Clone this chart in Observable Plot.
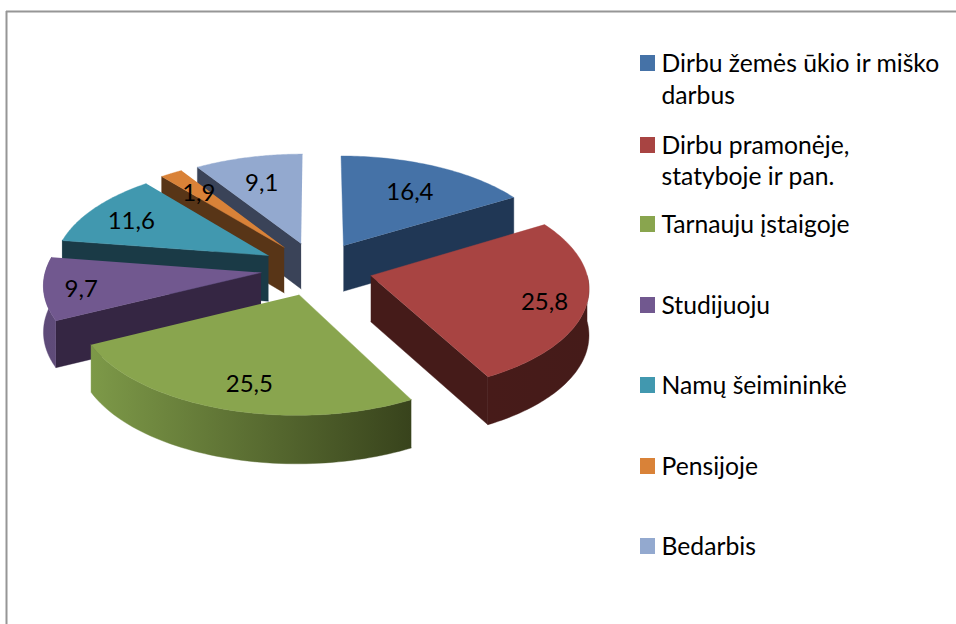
<!DOCTYPE html>
<html lang="lt">
<head>
<meta charset="utf-8">
<script src="https://cdn.jsdelivr.net/npm/d3@7"></script>
<script src="https://cdn.jsdelivr.net/npm/@observablehq/plot@0.6"></script>
<style>html,body{margin:0;padding:0;background:#fff}svg{display:block}</style>
</head>
<body>
<div id="chart"></div>
<script>
const categories = ["Dirbu žemės ūkio ir miško darbus","Dirbu pramonėje, statyboje ir pan.","Tarnauju įstaigoje","Studijuoju","Namų šeimininkė","Pensijoje","Bedarbis"];
const legendLines = [["Dirbu žemės ūkio ir miško","darbus"],["Dirbu pramonėje,","statyboje ir pan."],["Tarnauju įstaigoje"],["Studijuoju"],["Namų šeimininkė"],["Pensijoje"],["Bedarbis"]];
const values = [16.4,25.8,25.5,9.7,11.6,1.9,9.1];
const valueLabels = ["16,4","25,8","25,5","9,7","11,6","1,9","9,1"];
const topColors = ["#4572a7","#a84442","#89a54e","#71588f","#4198af","#d98238","#93a9cf"];
const cutColors = ["#203755","#451b19","#38431c","#352643","#1a3a46","#583517","#3a4358"];
const rimStops = [null,["#471b19","#451b19"],["#7d9948","#38431c"],["#5d4a78","#5f4b79"],null,null,null];
const labelReach = [.64,.8,.77,.82,.71,.66,.69];
const labelNudge = [[5,-1],[2,4],[8,4],[-2,3],[-12,0],[-9,-4],[-2,1]];
const paintOrder = [6,5,4,0,3,2,1];

// projection of the tilted pie
const W = 956, H = 624, cx = 316, cy = 268, Rx = 215, Ry = 103, persp = .1, explode = .26;
const TAU = Math.PI * 2;
const total = d3.sum(values);
const cum = d3.cumsum(values);
const slices = values.map((v, i) => {
  const a1 = cum[i] / total * TAU, a0 = a1 - v / total * TAU, mid = (a0 + a1) / 2;
  return {i, a0, a1, mid, ox: explode * Math.sin(mid), oy: explode * Math.cos(mid)};
});
function project(s, r, a, down = 0) {
  const u = s.ox + r * Math.sin(a), v = s.oy + r * Math.cos(a);
  const p = 1 / (1 + persp * v);
  const depth = down ? 46 - 2 * v : 0;
  return {x: cx + Rx * u * p, y: cy - Ry * v * p + depth};
}
const arc = (s, a0, a1, down) => d3.range(61).map(k => project(s, 1, a0 + (a1 - a0) * k / 60, down));

const faceMarks = [];
const lineFace = (pts, fill) => faceMarks.push(Plot.line(pts, {x: "x", y: "y", fill, stroke: fill, strokeWidth: .4, curve: "linear"}));
for (const i of paintOrder) {
  const s = slices[i];
  // cut faces that turn toward the viewer
  const cut = a => [project(s,0,a), project(s,1,a), project(s,1,a,1), project(s,0,a,1)];
  if (Math.sin(s.a0) < -1e-6) lineFace(cut(s.a0), cutColors[i]);
  if (Math.sin(s.a1) > 1e-6) lineFace(cut(s.a1), cutColors[i]);
  // outer wall, front part only
  const r0 = Math.max(s.a0, TAU / 4), r1 = Math.min(s.a1, TAU * 3 / 4 + .16);
  if (r1 > r0) lineFace([...arc(s, r0, r1), ...arc(s, r1, r0, 1)], rimStops[i] ? `url(#rim${i})` : cutColors[i]);
  // top
  lineFace([project(s,0,s.a0), ...arc(s, s.a0, s.a1)], topColors[i]);
}

const valueRows = slices.map(s => {
  const p = project(s, labelReach[s.i], s.mid), n = labelNudge[s.i];
  return {x: p.x + n[0], y: p.y + n[1], text: valueLabels[s.i]};
});

// legend layout
const legendTop = [[64,96],[146,177],[225],[306],[386],[467],[547]];
const legendText = legendLines.flatMap((ls, i) => ls.map((t, j) => ({t, y: legendTop[i][j]})));
const swatches = legendTop.map((ys, i) => ({y: ys[0] - 1, c: topColors[i]}));

function gradients() {
  const defs = d3.create("svg:defs");
  rimStops.forEach((st, i) => {
    if (!st) return;
    const g = defs.append("linearGradient").attr("id", `rim${i}`);
    g.append("stop").attr("offset", 0).attr("stop-color", st[0]);
    g.append("stop").attr("offset", 1).attr("stop-color", st[1]);
  });
  return defs.node();
}

const chart = Plot.plot({
  width: W, height: H, margin: 0,
  style: {fontFamily: "Lato, sans-serif", background: "#fff"},
  x: {domain: [0, W], range: [0, W], axis: null},
  y: {domain: [0, H], range: [0, H], axis: null},
  marks: [
    gradients,
    Plot.ruleX([6], {y1: 11, y2: H, stroke: "#969696", strokeWidth: 2}),
    Plot.ruleY([11], {x1: 6, x2: W, stroke: "#969696", strokeWidth: 2}),
    ...faceMarks,
    Plot.text(valueRows, {x: "x", y: "y", text: "text", fontSize: 24, fill: "#000", lineAnchor: "middle"}),
    Plot.rect(swatches, {x1: () => 640, x2: () => 655, y1: d => d.y - 8, y2: d => d.y + 8, fill: "c"}),
    Plot.text(legendText, {x: () => 661, y: "y", text: "t", textAnchor: "start", lineAnchor: "middle", fontSize: 24.7, fill: "#000"})
  ],
  color: {type: "identity"}
});
document.getElementById("chart").append(chart);
</script>
</body>
</html>
